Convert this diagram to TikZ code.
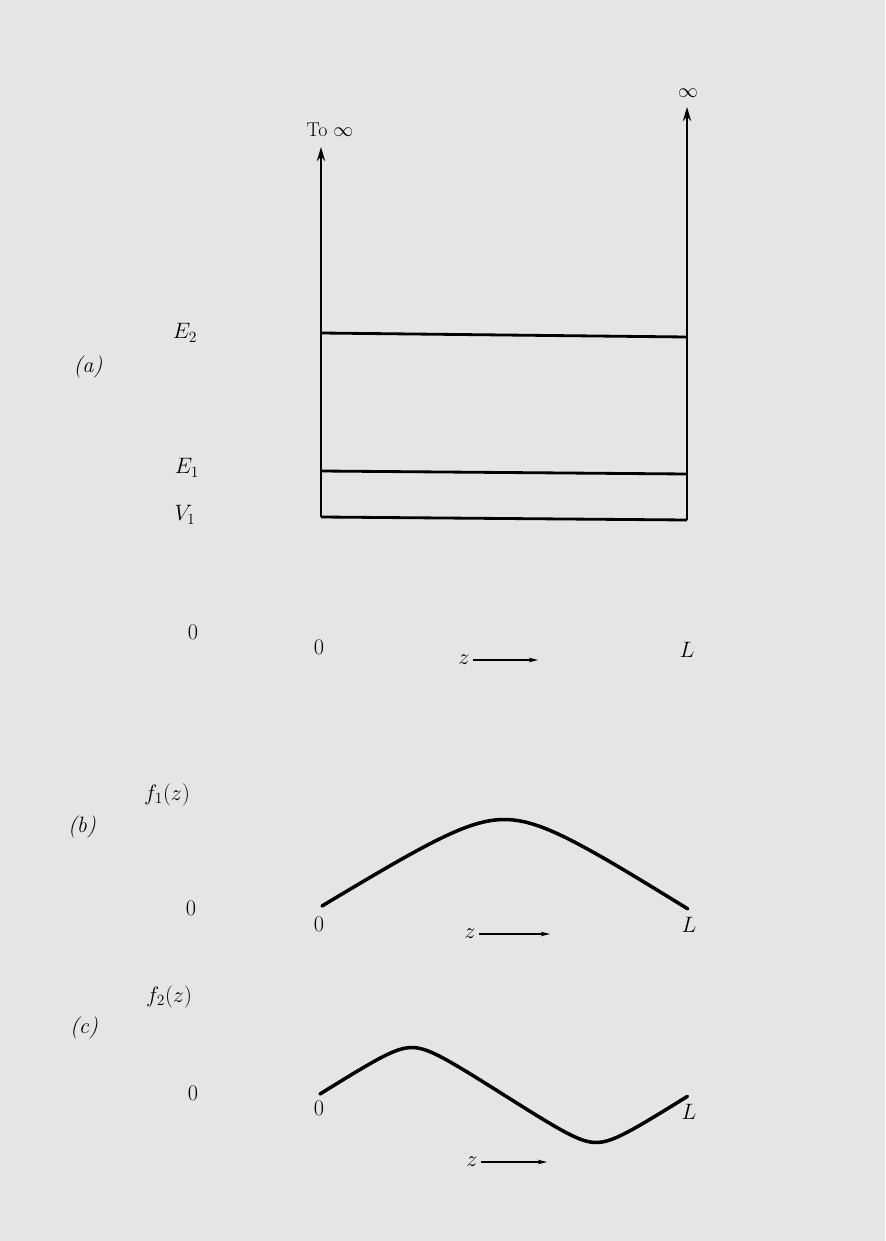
\documentclass[tikz,border=0pt]{standalone}
\usepackage{fix-cm}
\usepackage{amsmath,amssymb}
\usetikzlibrary{arrows.meta,positioning}

\begin{document}
\begin{tikzpicture}[
    x=0.03cm, y=-0.03cm,
    level/.style={line width=2.4pt},
    uparrow/.style={line width=2.4pt,-{Stealth[length=12pt,width=7pt]}},
    zarrow/.style={line width=0.9pt,-{Stealth[length=8pt,width=4pt]}},
    wave/.style={line width=3pt,line cap=round},
    lbl/.style={inner sep=0pt,font=\fontsize{19}{22}\selectfont},
    tag/.style={inner sep=0pt,font=\fontsize{19}{22}\selectfont\itshape},
    small/.style={inner sep=0pt,font=\fontsize{17}{20}\selectfont},
]
    \fill[black!10] (0,0) rectangle (885,1241);
    \useasboundingbox (0,0) rectangle (885,1241);

    % (a) potential well
    \coordinate (wl) at (321,517);
    \coordinate (wr) at (687,520);
    \coordinate (tl) at (321,147);
    \coordinate (tr) at (687,107);
    \coordinate (e2l) at (321,333);
    \coordinate (e2r) at (687,337);
    \coordinate (e1l) at (321,471);
    \coordinate (e1r) at (687,474);

    \node (toinf) [small] at (330,130) {To $\infty$};
    \node (rinf) [small] at (688,93) {$\infty$};
    \node (tag_a) [tag] at (88,367) {(a)};
    \node (lab_e2) [lbl] at (185,333) {$E_2$};
    \node (lab_e1) [lbl] at (187,468) {$E_1$};
    \node (lab_v1) [lbl] at (185,515) {$V_1$};
    \node (zero_a) [lbl] at (193,632) {0};
    \node (orig_a) [lbl] at (319,647) {0};
    \node (len_a) [lbl] at (687,650) {$L$};
    \node (z_a) [lbl] at (464,660) {$z$};
    \coordinate (zend_a) at (538,660);

    \draw [uparrow] (wl) -- (tl);
    \draw [uparrow] (wr) -- (tr);
    \draw [level] (wl) -- (wr);
    \draw [level] (e1l) -- (e1r);
    \draw [level] (e2l) -- (e2r);
    \draw [zarrow] (z_a.east) ++(3,0) -- (zend_a);

    % (b) ground state
    \node (f_one) [lbl] at (167,795) {$f_1(z)$};
    \node (tag_b) [tag] at (82,827) {(b)};
    \node (zero_b) [lbl] at (191,908) {0};
    \node (orig_b) [lbl] at (319,924) {0};
    \node (len_b) [lbl] at (689,925) {$L$};
    \node (z_b) [lbl] at (470,934) {$z$};
    \coordinate (zend_b) at (550,934);

    \draw [wave] plot[domain=0:1,samples=80,smooth]
      ({322+366*\x},{906+3*\x-88*asin(0.9*sin(180*\x))/asin(0.9)});
    \draw [zarrow] (z_b.east) ++(3,0) -- (zend_b);

    % (c) first excited state
    \node (f_two) [lbl] at (169,997) {$f_2(z)$};
    \node (tag_c) [tag] at (84,1028) {(c)};
    \node (zero_c) [lbl] at (193,1093) {0};
    \node (orig_c) [lbl] at (319,1108) {0};
    \node (len_c) [lbl] at (689,1112) {$L$};
    \node (z_c) [lbl] at (472,1162) {$z$};
    \coordinate (zend_c) at (547,1162);

    \draw [wave] plot[domain=0:1,samples=100,smooth]
      ({320+368*\x},{1094+2*\x-47*asin(0.93*sin(360*\x))/asin(0.93)});
    \draw [zarrow] (z_c.east) ++(3,0) -- (zend_c);

\end{tikzpicture}
\end{document}
